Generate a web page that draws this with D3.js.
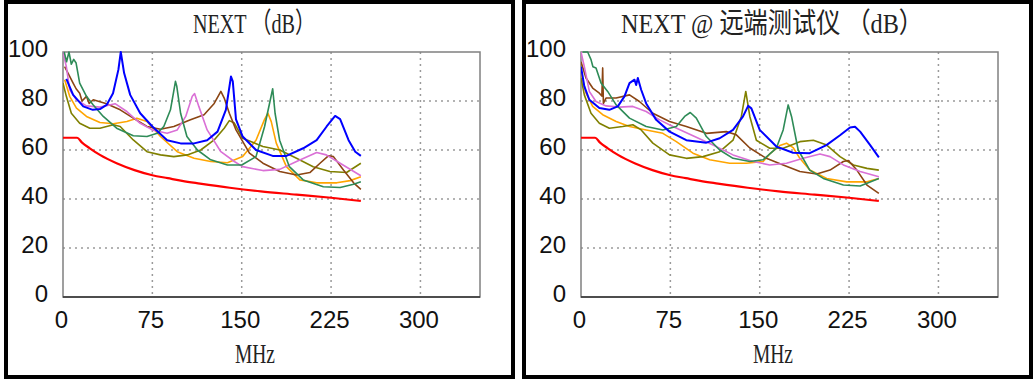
<!DOCTYPE html>
<html>
<head>
<meta charset="utf-8">
<script src="https://cdn.jsdelivr.net/npm/d3@7"></script>
<style>
  body { margin: 0; background: #fff; }
  svg { display: block; }
</style>
</head>
<body>
<div id="svganchor"></div>
<script>
/*
------------------------------
DATA: ticks, titles and the curves ([MHz, dB])
------------------------------
*/
const xTicks = [0, 75, 150, 225, 300];
const yTicks = [0, 20, 40, 60, 80, 100];
const titles = ["NEXT （dB）", "NEXT @ 远端测试仪 （dB）"];
const xLabel = "MHz";

// limit line, same on both panels
const limitLine = [[0,65],[5,65],[11.8,65],[16,63],[22.5,60.7],[31,58],[45,54.6],[60,51.8],[75,49.7],[88,48.5],[100,47.4],[115,46.3],[140,44.6],[166,43.1],[196,41.8],[225,40.5],[250,39.2]];

// main unit
const mainBlue = [[2.8,89],[8.5,82.5],[17,77.8],[25,76.4],[31,76.7],[36.6,78.4],[42,83.2],[46.5,92.8],[48.5,100],[51.3,91.4],[56.4,82.5],[64.8,75],[75,69.6],[87.4,64],[98.7,62.7],[110,62.7],[121,64],[129.7,67.5],[136.7,76.4],[141,90],[142.5,88],[145.2,72.5],[150.8,65.5],[162,60],[176,57.6],[187.5,57.6],[201.6,60.7],[212.9,64],[221.3,69.6],[228.4,73.9],[232.6,72.6],[239.7,64],[245.3,59.3],[250,57.6]];
const mainGreen = [[1,100],[3,96],[5,100],[7,95],[9,97],[11,95.5],[14,87.3],[19.7,81.9],[25.4,78.4],[33.8,73.7],[45,68.9],[59,65.8],[70.5,65.5],[79,66.8],[84.6,69.6],[90.2,76.4],[94.4,88],[95.5,86],[98.7,75],[104,65.5],[112.8,60],[124,56],[138,53.9],[150,53.9],[162,57.3],[169.2,69.6],[176,85],[178,75],[181.8,64],[190,53.2],[201.6,47.8],[218.5,45],[232.6,44.7],[243.9,46],[250,47]];
const mainOrchid = [[0,100],[2.8,94],[5.6,84.6],[11.3,80.5],[19.7,78],[31,77.5],[43.7,78.9],[53.6,75.7],[64.8,70.9],[75,68.2],[87.4,66.8],[95.9,68.2],[103,73.7],[108.5,81.9],[110.5,83],[114,77.8],[121,68.2],[132.5,59.3],[143.8,55.3],[150.8,53.2],[167.8,51.6],[181.9,52.1],[196,55.3],[212.9,59],[221,58],[232.6,54.6],[250,49.5]];
const mainBrown = [[1.4,94],[4.2,91.4],[8.5,87.3],[11,85],[14,83.2],[16,80],[19.7,81.9],[22,79],[25.4,80.5],[36.6,78.9],[48,76.4],[59,73],[70.5,69.6],[81.8,68.5],[93,69.6],[107,72.3],[118.4,74.4],[126.9,79],[132.5,83.9],[135.3,81.2],[139.6,75],[145.2,68.2],[156.5,58.7],[167.8,54.6],[181.9,51.2],[196,49.8],[207.2,50.8],[215.7,54.6],[222.7,57.6],[227,57.3],[235.4,51.8],[243.9,46.6],[250,43.9]];
const mainOlive = [[0,87.3],[2.8,81.9],[7,75],[14,70.9],[22.5,68.9],[31,68.9],[42.3,70.3],[48,69.6],[59,64.1],[70.5,59.3],[81.8,58],[93,57.3],[104.3,58],[115.6,60],[126.9,64.1],[135.3,68.9],[139.6,72],[143.8,71],[150.8,64.8],[167.8,61.4],[181.9,60],[196,56.6],[210,53.2],[224,51.2],[238,50.8],[250,54.6]];
const mainOrange = [[1.4,88.7],[5.6,81.9],[11.3,77.1],[19.7,73.7],[31,71.2],[42.3,70.7],[53.6,71.6],[62,73],[70.5,71.6],[81.8,65.5],[95.9,59.3],[110,56.6],[124,55.3],[138,54.8],[150.8,57.3],[162,64],[169,72.3],[172,75],[174.8,71.6],[179,62.8],[187.5,53.2],[198.8,47.8],[212.9,46.6],[229.8,46.6],[241,47.5],[250,49.1]];

// remote unit
const remoteBlue = [[0,94],[2.8,86],[7,80.5],[15.4,77.1],[23.8,76.4],[30.9,77.8],[36.5,81.9],[40.7,87.3],[44.9,88.7],[46.3,86.5],[47.7,89.4],[50.5,84.6],[54.7,79],[63.1,72.3],[74.3,67.5],[88.4,64],[105.2,63],[116.4,64.8],[127.6,68.2],[136,73.7],[140.3,78],[143,77],[150,68.2],[164,61.4],[178,58.9],[192,58.7],[206,62],[217.4,66],[225.8,69.2],[230,69.5],[234.3,67.5],[242.7,62],[250,57]];
const remoteGreen = [[1.4,100],[5.6,100],[8.4,96.9],[10,94],[12.6,93.5],[16.8,87.3],[22.4,83.9],[29.5,78.4],[40.7,73],[54.7,69.6],[68.7,68.2],[80,69.6],[87,73.7],[91.7,75.3],[96.8,73],[105.2,65.5],[116.4,60],[127.6,56.6],[141.7,55.3],[152.8,56],[164,60.8],[169.7,68.2],[173.9,78.4],[176.7,73.7],[182.3,60],[192,51.8],[203.4,48.4],[220.2,45.7],[234.3,45.3],[250,48.4]];
const remoteOrchid = [[0,100],[2.8,94],[7,83.9],[12.6,79.8],[21,78],[32.3,77.5],[43.5,77.8],[54.7,75.7],[66,72.3],[77.1,69.6],[94,65.8],[110.8,62],[127.6,58],[144.5,55.3],[158.4,53.9],[172.5,54.6],[186.5,56.6],[200.6,58.4],[209,57.3],[220.2,53.9],[234.3,51.2],[250,49.1]];
const remoteBrown = [[0,96],[4.2,89.4],[9.8,85.3],[15.4,83.2],[17.5,82],[18.2,93.5],[18.8,79],[21,81.2],[29.5,81.2],[40.7,82.5],[49,79.8],[60.3,75],[74.3,71.6],[88.4,69.6],[105.2,66.8],[122,67.5],[130.4,66.2],[141.7,60.8],[155.6,56.6],[169.7,53.9],[183.7,51.2],[197.8,50.2],[209,51.8],[220.2,55.3],[224.4,55.7],[231.5,51.8],[240,45.7],[250,42.3]];
const remoteOlive = [[0,89.4],[2.8,82.5],[8.4,75],[15.4,70.9],[23.8,68.9],[35,69.6],[43.5,70.3],[50.5,68.2],[60.3,62.8],[74.3,58],[88.4,56.6],[102.4,57.3],[116.4,59.3],[127.6,64],[134.6,73.7],[138.3,83.9],[141.7,73.7],[147.2,64],[158.4,60.7],[169.7,60.7],[183.7,63.4],[195,64],[206.2,62],[217.4,57.3],[228.7,53.9],[240,52.5],[250,51.8]];
const remoteOrange = [[0,91.4],[4.2,83.2],[9.8,77.8],[18.2,74.4],[29.5,71.6],[40.7,69.6],[54.7,68.2],[68.7,66.8],[80,63.4],[94,58.7],[108,56],[124.8,54.6],[138.8,54.6],[152.9,55.3],[158.4,58.4],[166.9,61.8],[172.5,62.8],[178,61],[183.7,56.6],[192,51.8],[206.2,48.4],[223,47],[240,47],[250,48.4]];

const pairColors = ["#ffa500", "#808000", "#8b4513", "#da70d6", "#2e8b57", "#0000ff"];
const limitColor = "#ff0000";

/*
------------------------------
METHOD: set the size of the canvas and the plot box
------------------------------
*/
const width = 1034;
const height = 384;
const panelShift = 518;
const plot = { left: 63, right: 480, top: 52, bottom: 297 };

const svg = d3.select("#svganchor")
  .append("svg")
  .attr("width", width)
  .attr("height", height)
  .style("font-family", "'Liberation Serif', 'Noto Sans CJK SC', serif");

const x = d3.scaleLinear().domain([0, 350]).range([plot.left, plot.right]);
const y = d3.scaleLinear().domain([0, 100]).range([plot.bottom, plot.top]);

const line = d3.line()
  .x(d => x(d[0]))
  .y(d => y(d[1]));

// the limit is a smooth curve
const smoothLine = d3.line()
  .x(d => x(d[0]))
  .y(d => y(d[1]))
  .curve(d3.curveMonotoneX);

/*
------------------------------
METHOD: draw one panel
------------------------------
*/
function drawPanel(i, title, curves) {
  let g = svg.append("g").attr("transform", `translate(${i * panelShift},0)`);

  // black frame round the panel
  g.append("rect")
    .attr("x", 6).attr("y", 2)
    .attr("width", 507).attr("height", 375)
    .attr("fill", "#fff")
    .attr("stroke", "#000")
    .attr("stroke-width", 4);

  // dotted grid
  g.append("g")
    .selectAll("line")
    .data(xTicks.filter(d => d > 0))
    .join("line")
    .attr("x1", d => x(d)).attr("x2", d => x(d))
    .attr("y1", plot.top).attr("y2", plot.bottom)
    .attr("stroke", "#9a9a9a")
    .attr("stroke-width", 1.5)
    .attr("stroke-dasharray", "2,4");

  g.append("g")
    .selectAll("line")
    .data(yTicks.filter(d => d > 0 && d < 100))
    .join("line")
    .attr("x1", plot.left).attr("x2", plot.right)
    .attr("y1", d => y(d)).attr("y2", d => y(d))
    .attr("stroke", "#9a9a9a")
    .attr("stroke-width", 1.5)
    .attr("stroke-dasharray", "2,4");

  // plot box
  g.append("rect")
    .attr("x", plot.left).attr("y", plot.top)
    .attr("width", plot.right - plot.left)
    .attr("height", plot.bottom - plot.top)
    .attr("fill", "none")
    .attr("stroke", "#808080")
    .attr("stroke-width", 1.5);

  g.append("line")
    .attr("x1", plot.left).attr("x2", plot.right)
    .attr("y1", plot.bottom).attr("y2", plot.bottom)
    .attr("stroke", "#333")
    .attr("stroke-width", 1.5);

  // axes, labels only
  let xAxis = g.append("g")
    .attr("transform", `translate(-2,${plot.bottom})`)
    .call(d3.axisBottom(x).tickValues(xTicks).tickSize(0).tickPadding(0));
  xAxis.select(".domain").remove();
  xAxis.selectAll("text")
    .attr("y", 31).attr("dy", 0)
    .style("font-size", "24px")
    .attr("fill", "#111");

  let yAxis = g.append("g")
    .attr("transform", `translate(${plot.left},0)`)
    .call(d3.axisLeft(y).tickValues(yTicks).tickSize(0).tickPadding(0));
  yAxis.select(".domain").remove();
  yAxis.selectAll("text")
    .attr("x", -15).attr("dy", 4)
    .style("font-size", "24px")
    .attr("fill", "#111");

  // curves, clipped to the plot box
  let clipId = "clip" + i;
  g.append("clipPath").attr("id", clipId)
    .append("rect")
    .attr("x", plot.left).attr("y", plot.top - 1)
    .attr("width", plot.right - plot.left)
    .attr("height", plot.bottom - plot.top + 1);

  let lines = g.append("g").attr("clip-path", `url(#${clipId})`)
    .attr("fill", "none")
    .attr("stroke-linejoin", "round");

  lines.selectAll("path.pair")
    .data(curves)
    .join("path")
    .attr("class", "pair")
    .attr("d", line)
    .attr("stroke", (d, k) => pairColors[k])
    .attr("stroke-width", (d, k) => k === 5 ? 2 : 1.6);

  lines.append("path")
    .datum(limitLine)
    .attr("d", smoothLine)
    .attr("stroke", limitColor)
    .attr("stroke-width", 2.2);

  // title and x label
  g.append("text")
    .attr("x", 254).attr("y", 33)
    .attr("text-anchor", "middle")
    .attr("textLength", i === 0 ? 122 : 302)
    .attr("lengthAdjust", "spacingAndGlyphs")
    .style("font-size", "28px")
    .attr("fill", "#222")
    .text(title);

  g.append("text")
    .attr("x", 255).attr("y", 363)
    .attr("text-anchor", "middle")
    .attr("textLength", 40)
    .attr("lengthAdjust", "spacingAndGlyphs")
    .style("font-size", "28px")
    .attr("fill", "#222")
    .text(xLabel);
}

drawPanel(0, titles[0], [mainOrange, mainOlive, mainBrown, mainOrchid, mainGreen, mainBlue]);
drawPanel(1, titles[1], [remoteOrange, remoteOlive, remoteBrown, remoteOrchid, remoteGreen, remoteBlue]);
</script>
</body>
</html>
